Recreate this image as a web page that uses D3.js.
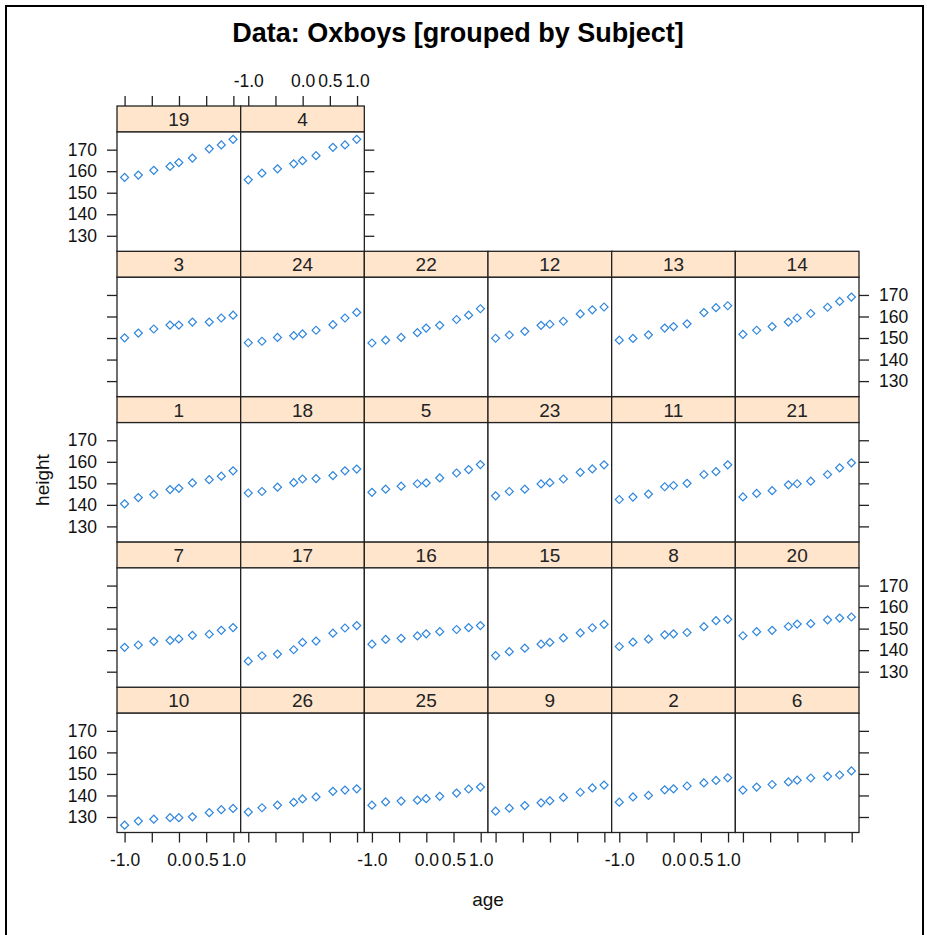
<!DOCTYPE html>
<meta charset="utf-8">
<script src="https://d3js.org/d3.v7.min.js"></script>
<style>
  body { margin: 0; background: #fff; }
  text { font-family: "Liberation Sans", Arial, sans-serif; }
</style>
<div id="chart"></div>
<script>

// measurement occasions (centred age)
var ages = [-1.0, -0.7479, -0.4630, -0.1643, -0.0027, 0.2466, 0.5562, 0.7781, 0.9945];

// panels in lattice order: bottom-left first, left to right, then upwards
var subjects = ["10", "26", "25", "9", "2", "6",
                "7", "17", "16", "15", "8", "20",
                "1", "18", "5", "23", "11", "21",
                "3", "24", "22", "12", "13", "14",
                "19", "4"];

// height (cm) per subject, same order as subjects
var heights = [
  [126.2, 128.1, 129.0, 129.7, 129.7, 130.1, 132.0, 133.4, 134.0],
  [132.3, 134.3, 135.5, 136.8, 138.4, 139.3, 141.9, 142.5, 143.1],
  [135.5, 137.0, 137.4, 137.8, 138.5, 139.6, 141.1, 143.0, 143.9],
  [132.7, 134.1, 135.3, 136.6, 137.5, 139.1, 141.5, 143.5, 144.8],
  [136.9, 139.3, 140.0, 142.6, 143.1, 144.4, 145.8, 147.0, 148.2],
  [142.5, 143.9, 145.1, 146.3, 147.1, 148.1, 148.9, 149.5, 151.4],
  [141.3, 142.4, 144.1, 144.5, 145.2, 146.9, 147.4, 149.2, 150.5],
  [134.9, 137.4, 138.2, 140.2, 143.6, 144.2, 147.9, 150.3, 151.4],
  [142.8, 145.0, 145.5, 146.6, 147.6, 148.6, 149.6, 150.5, 151.4],
  [137.5, 139.3, 140.9, 142.8, 143.6, 145.7, 148.0, 150.4, 152.0],
  [141.7, 143.7, 145.1, 147.1, 147.6, 148.2, 150.9, 153.7, 154.3],
  [146.7, 148.6, 149.2, 151.0, 152.1, 152.3, 154.1, 154.9, 155.4],
  [140.5, 143.4, 144.8, 147.1, 147.7, 150.2, 151.7, 153.3, 155.8],
  [145.5, 146.2, 148.2, 150.3, 152.0, 152.2, 153.6, 155.8, 156.6],
  [145.8, 147.3, 148.7, 149.8, 150.2, 152.5, 154.8, 156.4, 158.7],
  [144.2, 146.2, 147.3, 149.7, 150.3, 152.0, 155.1, 156.7, 158.6],
  [142.5, 143.6, 145.0, 148.4, 149.0, 150.0, 154.1, 155.4, 158.6],
  [143.7, 145.3, 146.6, 149.3, 149.8, 151.0, 154.1, 157.2, 159.5],
  [150.1, 152.3, 154.2, 156.0, 156.0, 157.4, 157.4, 159.3, 160.6],
  [147.8, 148.5, 150.3, 151.1, 151.9, 153.6, 156.2, 159.3, 161.9],
  [147.7, 149.0, 150.3, 152.5, 154.6, 155.9, 158.6, 160.6, 163.6],
  [149.9, 151.4, 153.1, 155.9, 156.4, 157.8, 161.2, 163.1, 164.4],
  [149.0, 149.8, 151.5, 154.6, 155.3, 156.6, 161.8, 164.1, 165.0],
  [151.7, 153.6, 155.3, 157.4, 159.3, 161.4, 164.3, 167.0, 169.0],
  [157.1, 158.2, 160.4, 162.2, 164.0, 166.1, 170.4, 172.2, 174.8],
  [156.0, 159.1, 161.1, 163.4, 164.9, 167.2, 171.1, 172.2, 174.8]
];

var xTicks = [-1.0, -0.5, 0.0, 0.5, 1.0];
var xTickLabels = [-1.0, 0.0, 0.5, 1.0];   // -0.5 dropped (overlap)
var yTicks = [130, 140, 150, 160, 170];

var W = 927, H = 935;
var gridL = 117, gridR = 859, gridT = 106, gridB = 832.5;
var ncol = 6, nrow = 5;
var colW = (gridR - gridL) / ncol;
var rowH = (gridB - gridT) / nrow;
var stripH = 26;
var panelH = rowH - stripH;

var svg = d3.select("#chart")
  .append("svg")
    .attr("width", W)
    .attr("height", H);

svg.append("rect")
  .attr("x", 0).attr("y", 0)
  .attr("width", W).attr("height", H)
  .attr("fill", "#fff");

// outer frame
svg.append("rect")
  .attr("x", 6).attr("y", 6)
  .attr("width", 917).attr("height", 940)
  .attr("fill", "none")
  .attr("stroke", "#000")
  .attr("stroke-width", 2);

// scales with lattice style 7% padding
function padded(ext) {
  var p = (ext[1] - ext[0]) * 0.07;
  return [ext[0] - p, ext[1] + p];
}
var x = d3.scaleLinear()
  .domain(padded(d3.extent(ages)))
  .range([0, colW]);
var y = d3.scaleLinear()
  .domain(padded(d3.extent(d3.merge(heights))))
  .range([panelH, 0]);

var rowFromTop = function(i) { return nrow - 1 - Math.floor(i / ncol); };

var panels = subjects.map(function(s, i) {
  return {subject: s, values: heights[i], col: i % ncol, row: rowFromTop(i)};
});

var panel = svg.selectAll("g.panel")
  .data(panels)
  .enter().append("g")
    .attr("class", "panel")
    .attr("transform", function(d) {
      return "translate(" + (gridL + d.col * colW) + "," + (gridT + d.row * rowH) + ")";
    });

// strip
panel.append("rect")
  .attr("width", colW)
  .attr("height", stripH)
  .attr("fill", "#ffe5cc")
  .attr("stroke", "#222")
  .attr("stroke-width", 1.3);

panel.append("text")
  .attr("x", colW / 2)
  .attr("y", stripH / 2 + 7)
  .attr("text-anchor", "middle")
  .style("font-size", "19px")
  .attr("fill", "#222")
  .text(function(d) { return d.subject; });

// panel box
panel.append("rect")
  .attr("y", stripH)
  .attr("width", colW)
  .attr("height", panelH)
  .attr("fill", "#fff")
  .attr("stroke", "#222")
  .attr("stroke-width", 1.3);

// points
var diamond = d3.symbol().type(d3.symbolSquare).size(32);
panel.append("g")
  .attr("transform", "translate(0," + stripH + ")")
  .selectAll("path")
  .data(function(d) { return d.values.map(function(v, k) { return {age: ages[k], h: v}; }); })
  .enter().append("path")
    .attr("d", diamond)
    .attr("transform", function(d) {
      return "translate(" + x(d.age) + "," + y(d.h) + ") rotate(45)";
    })
    .attr("fill", "none")
    .attr("stroke", "#2f86dd")
    .attr("stroke-width", 1.2);

// axes, alternating as lattice does
function styleAxis(g) {
  g.select(".domain").remove();
  g.selectAll(".tick line").attr("stroke", "#222").attr("stroke-width", 1.3);
  g.selectAll(".tick text").style("font-size", "17.5px").attr("fill", "#111");
}

function blank() { return ""; }
function xFmt(v) {
  return xTickLabels.indexOf(v) >= 0 ? d3.format(".1f")(v).replace("\u2212", "-") : "";
}

panels.forEach(function(d) {
  var px = gridL + d.col * colW, py = gridT + d.row * rowH;
  var lastInRow = (d.row === 0) ? 1 : ncol - 1;

  if (d.col === 0) {
    var la = d3.axisLeft(y).tickValues(yTicks).tickSize(10).tickPadding(10);
    if (d.row % 2 === 1) la.tickFormat(blank);
    svg.append("g")
      .attr("transform", "translate(" + px + "," + (py + stripH) + ")")
      .call(la).call(styleAxis);
  }
  if (d.col === lastInRow) {
    var ra = d3.axisRight(y).tickValues(yTicks).tickSize(10).tickPadding(10);
    if (d.row % 2 === 0) ra.tickFormat(blank);
    svg.append("g")
      .attr("transform", "translate(" + (px + colW) + "," + (py + stripH) + ")")
      .call(ra).call(styleAxis);
  }
  if (d.row === nrow - 1) {
    var ba = d3.axisBottom(x).tickValues(xTicks).tickSize(10).tickPadding(11).tickFormat(xFmt);
    if (d.col % 2 === 1) ba.tickFormat(blank);
    svg.append("g")
      .attr("transform", "translate(" + px + "," + (py + rowH) + ")")
      .call(ba).call(styleAxis);
  }
  if (d.row === 0) {
    var ta = d3.axisTop(x).tickValues(xTicks).tickSize(10).tickPadding(9).tickFormat(xFmt);
    if (d.col % 2 === 0) ta.tickFormat(blank);
    svg.append("g")
      .attr("transform", "translate(" + px + "," + py + ")")
      .call(ta).call(styleAxis);
  }
});

// title and axis labels
svg.append("text")
  .attr("x", 458)
  .attr("y", 42)
  .attr("text-anchor", "middle")
  .style("font-size", "27px")
  .style("font-weight", "bold")
  .text("Data: Oxboys [grouped by Subject]");

svg.append("text")
  .attr("x", (gridL + gridR) / 2)
  .attr("y", 906)
  .attr("text-anchor", "middle")
  .style("font-size", "19px")
  .attr("fill", "#111")
  .text("age");

svg.append("text")
  .attr("transform", "translate(49,480) rotate(-90)")
  .attr("text-anchor", "middle")
  .style("font-size", "19px")
  .attr("fill", "#111")
  .text("height");

</script>
